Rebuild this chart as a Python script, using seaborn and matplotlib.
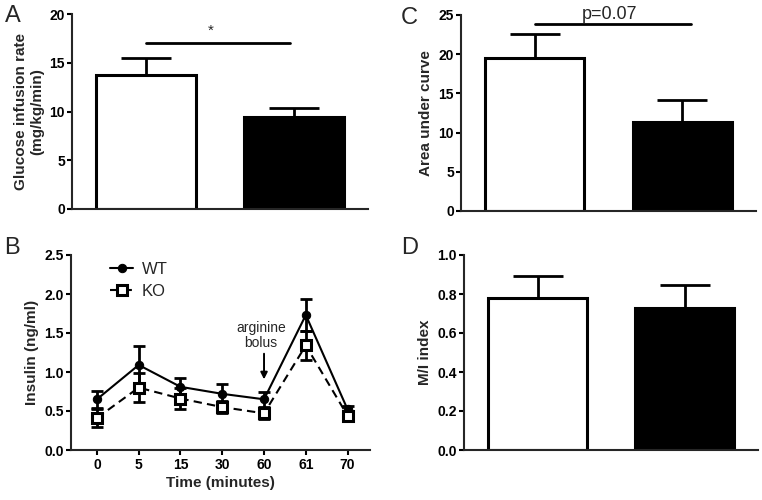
import matplotlib
matplotlib.use("Agg")
import matplotlib.pyplot as plt
import seaborn as sns
import numpy as np
import pandas as pd

# ---------------- data ----------------
groups = ["WT", "KO"]
bar_colors = ["white", "black"]

gir_mean = [13.7, 9.4]
gir_sem = [1.8, 1.0]

auc_mean = [19.5, 11.3]
auc_sem = [3.1, 2.8]

mi_mean = [0.78, 0.73]
mi_sem = [0.11, 0.115]

time_labels = ["0", "5", "15", "30", "60", "61", "70"]
wt_insulin = [0.65, 1.09, 0.81, 0.72, 0.65, 1.73, 0.52]
wt_sem = [0.11, 0.24, 0.11, 0.12, 0.10, 0.21, 0.04]
ko_insulin = [0.41, 0.80, 0.66, 0.55, 0.47, 1.34, 0.44]
ko_sem = [0.11, 0.19, 0.13, 0.08, 0.07, 0.19, 0.06]

# ---------------- style ----------------
sns.set_style("ticks")
plt.rcParams["font.family"] = ["Liberation Sans", "DejaVu Sans"]
plt.rcParams["axes.linewidth"] = 1.5
plt.rcParams["xtick.major.width"] = 1.5
plt.rcParams["ytick.major.width"] = 1.5
plt.rcParams["xtick.major.size"] = 3.5
plt.rcParams["ytick.major.size"] = 3.5
plt.rcParams["xtick.major.pad"] = 2.5
plt.rcParams["ytick.major.pad"] = 1.5
plt.rcParams["xtick.color"] = "black"
plt.rcParams["ytick.color"] = "black"

TICK_FS = 10
LABEL_FS = 11

fig = plt.figure(figsize=(7.62, 5.0), dpi=100)

ax_a = fig.add_axes([0.0945, 0.582, 0.3885, 0.39])
ax_c = fig.add_axes([0.605, 0.578, 0.387, 0.392])
ax_b = fig.add_axes([0.0932, 0.10, 0.392, 0.39])
ax_d = fig.add_axes([0.609, 0.10, 0.386, 0.39])


def bar_panel(ax, means, sems, ymax, step, ylabel, fmt):
    df = pd.DataFrame({"group": groups, "value": means})
    sns.barplot(data=df, x="group", y="value", hue="group", palette=bar_colors,
                edgecolor="black", linewidth=2.2, width=0.67, legend=False, ax=ax)
    # one-sided (upper) error bars
    ax.errorbar(range(len(means)), means, yerr=[np.zeros(len(sems)), sems],
                fmt="none", ecolor="black", elinewidth=2, capsize=18,
                capthick=2, zorder=0)
    ax.set_xlim(-0.5, 1.5)
    ax.set_ylim(0, ymax)
    ticks = np.arange(0, ymax + step / 2, step)
    ax.set_yticks(ticks)
    ax.set_yticklabels([fmt.format(v) for v in ticks],
                       fontweight="bold", fontsize=TICK_FS)
    ax.set_xticks([])
    ax.set_xlabel("")
    ax.set_ylabel(ylabel, fontweight="bold", fontsize=LABEL_FS, labelpad=4)
    sns.despine(ax=ax)


bar_panel(ax_a, gir_mean, gir_sem, 20, 5, "Glucose infusion rate\n(mg/kg/min)", "{:.0f}")
ax_a.plot([0, 0.97], [17.05, 17.05], color="black", lw=2)
ax_a.text(0.44, 17.6, "*", ha="center", va="bottom", fontsize=11)

bar_panel(ax_c, auc_mean, auc_sem, 25, 5, "Area under curve", "{:.0f}")
ax_c.plot([0, 1.06], [23.85, 23.85], color="black", lw=2, clip_on=False)
ax_c.text(0.51, 24.0, "p=0.07", ha="center", va="bottom", fontsize=13)

bar_panel(ax_d, mi_mean, mi_sem, 1.0, 0.2, "M/I index", "{:.1f}")

# ---------------- panel B ----------------
pos = np.arange(len(time_labels))
ins = pd.DataFrame({
    "pos": np.concatenate([pos, pos]),
    "insulin": wt_insulin + ko_insulin,
    "genotype": ["WT"] * len(pos) + ["KO"] * len(pos),
})
sns.lineplot(data=ins[ins.genotype == "WT"], x="pos", y="insulin", color="black",
             lw=1.5, marker="o", markersize=6, markeredgecolor="black",
             label="WT", ax=ax_b, zorder=3)
sns.lineplot(data=ins[ins.genotype == "KO"], x="pos", y="insulin", color="black",
             lw=1.5, linestyle=(0, (4, 2.5)), marker="s", markersize=7,
             markerfacecolor="white", markeredgecolor="black", markeredgewidth=2.2,
             label="KO", ax=ax_b, zorder=4)
ax_b.errorbar(pos, wt_insulin, yerr=wt_sem, fmt="none", ecolor="black",
              elinewidth=2, capsize=4.5, capthick=2, zorder=2)
ax_b.errorbar(pos, ko_insulin, yerr=ko_sem, fmt="none", ecolor="black",
              elinewidth=2, capsize=4.5, capthick=2, zorder=2)

ax_b.set_xlim(-0.62, 6.53)
ax_b.set_ylim(0, 2.5)
ax_b.set_xticks(pos)
ax_b.set_xticklabels(time_labels, fontweight="bold", fontsize=TICK_FS)
yt = np.arange(0, 2.51, 0.5)
ax_b.set_yticks(yt)
ax_b.set_yticklabels([f"{v:.1f}" for v in yt], fontweight="bold", fontsize=TICK_FS)
ax_b.set_xlabel("Time (minutes)", fontweight="bold", fontsize=LABEL_FS, labelpad=3)
ax_b.set_ylabel("Insulin (ng/ml)", fontweight="bold", fontsize=LABEL_FS, labelpad=4)
sns.despine(ax=ax_b)

ax_b.annotate("", xy=(4, 0.87), xytext=(4, 1.27),
              arrowprops=dict(arrowstyle="-|>", color="black", lw=1.4,
                              mutation_scale=10))
ax_b.text(3.93, 1.47, "arginine\nbolus", ha="center", va="center",
          fontsize=10, linespacing=1.15)

leg = ax_b.legend(loc="upper left", bbox_to_anchor=(0.08, 1.04), frameon=False,
                  fontsize=12, handlelength=1.4, handletextpad=0.5,
                  labelspacing=0.4)

# panel letters
for letter, x, y in [("A", 0.006, 0.99), ("B", 0.006, 0.525),
                     ("C", 0.526, 0.985), ("D", 0.526, 0.525)]:
    fig.text(x, y, letter, fontsize=17, ha="left", va="top")

fig.savefig("out.png", dpi=100)
